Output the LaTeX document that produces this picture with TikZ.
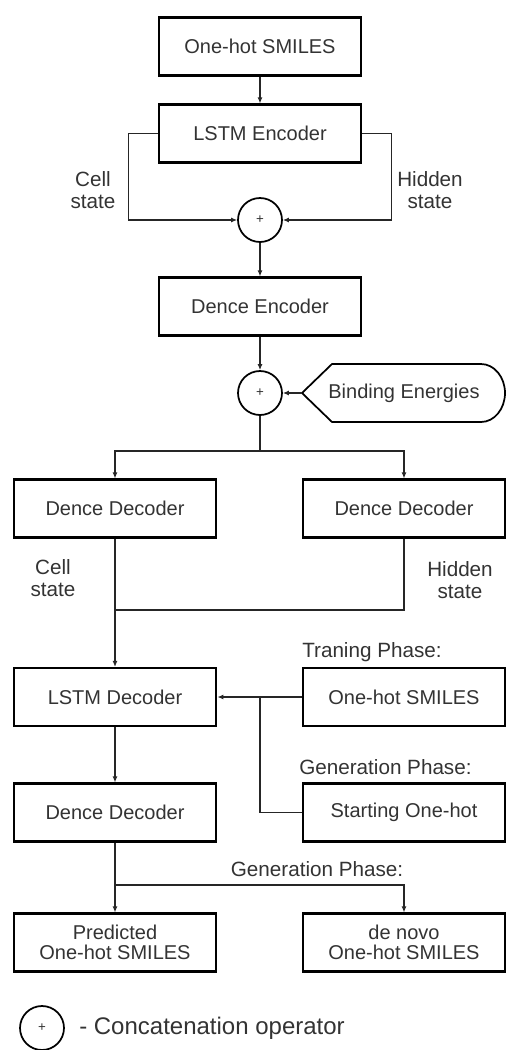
\documentclass[tikz,border=0pt]{standalone}
\usepackage{fontspec}
\setmainfont{Liberation Sans}
\usetikzlibrary{arrows.meta}
\definecolor{txt}{HTML}{333333}
\tikzset{
  box/.style={draw=black, line width=1.6pt, minimum width=152pt, minimum height=43.5pt, inner sep=0pt, text=txt, font=\fontsize{15}{15}\selectfont, align=center},
  cat/.style={draw=black, line width=1.3pt, circle, minimum size=33pt, inner sep=0pt, text=txt, font=\fontsize{10}{10}\selectfont},
  conn/.style={line width=1.1pt, draw=black!85},
  arr/.style={conn, -{Latex[length=4.5pt,width=3.8pt]}},
  lbl/.style={text=txt, font=\fontsize{15.5}{16.5}\selectfont, align=center, inner sep=0pt}
}
\begin{document}
\begin{tikzpicture}[x=0.75pt,y=-0.75pt]
\useasboundingbox (0,0) rectangle (506,1050);
% boxes
\node[box] (oh1) at (260,46.5) {One-hot SMILES};
\node[box] (lstme) at (260,133.5) {LSTM Encoder};
\node[cat] (c1) at (260,220) {+};
\node[box] (dence) at (260,306.5) {Dence Encoder};
\node[cat] (c2) at (260,393) {+};
\draw[line width=1.3pt] (302,393) -- (332,364) -- (481,364) arc[start angle=-90, end angle=90, x radius=24, y radius=29] -- (332,422) -- cycle;
\node[lbl, font=\fontsize{15}{15}\selectfont] (be) at (404,393) {Binding Energies};
\coordinate (bew) at (302,393);
\node[box] (dd1) at (115,508.5) {Dence Decoder};
\node[box] (dd2) at (404,508.5) {Dence Decoder};
\node[box] (lstmd) at (115,697) {LSTM Decoder};
\node[box] (oh2) at (404,697) {One-hot SMILES};
\node[box] (dd3) at (115,812.5) {Dence Decoder};
\node[box] (start) at (404,812.5) {Starting One-hot};
\node[box] (pred) at (115,942.5) {Predicted\\One-hot SMILES};
\node[box] (denovo) at (404,942.5) {de novo\\One-hot SMILES};
% labels
\node[lbl] (cs1) at (93,190) {Cell\\state};
\node[lbl] (hs1) at (430,190) {Hidden\\state};
\node[lbl] (cs2) at (53,578) {Cell\\state};
\node[lbl] (hs2) at (460,580) {Hidden\\state};
\node[lbl, anchor=west] (tp) at (302,652) {Traning Phase:};
\node[lbl, anchor=west] (gp1) at (299,767) {Generation Phase:};
\node[lbl] (gp2) at (317,869) {Generation Phase:};
% legend
\node[cat] (leg) at (42,1028) {+};
\node[lbl, anchor=west, font=\fontsize{18}{18}\selectfont] (legt) at (79,1028) {- Concatenation operator};
% coordinates
\coordinate (j1) at (260,451);
\coordinate (j2) at (115,610);
\coordinate (j3) at (260,697);
\coordinate (j4) at (115,885);
% connectors
\draw[arr] (oh1.south) -- (lstme.north);
\draw[arr] (lstme.west) -- ++(-29,0) |- (c1.west);
\draw[arr] (lstme.east) -- ++(29,0) |- (c1.east);
\draw[arr] (c1.south) -- (dence.north);
\draw[arr] (dence.south) -- (c2.north);
\draw[arr] (bew) -- (c2.east);
\draw[conn] (c2.south) -- (j1);
\draw[arr] (j1) -| (dd1.north);
\draw[arr] (j1) -| (dd2.north);
\draw[conn] (dd1.south) -- (j2);
\draw[conn] (dd2.south) |- (j2);
\draw[arr] (j2) -- (lstmd.north);
\draw[arr] (oh2.west) -- (lstmd.east);
\draw[conn] (start.west) -| (j3);
\draw[arr] (lstmd.south) -- (dd3.north);
\draw[arr] (dd3.south) -- (pred.north);
\draw[arr] (j4) -| (denovo.north);
\end{tikzpicture}
\end{document}
